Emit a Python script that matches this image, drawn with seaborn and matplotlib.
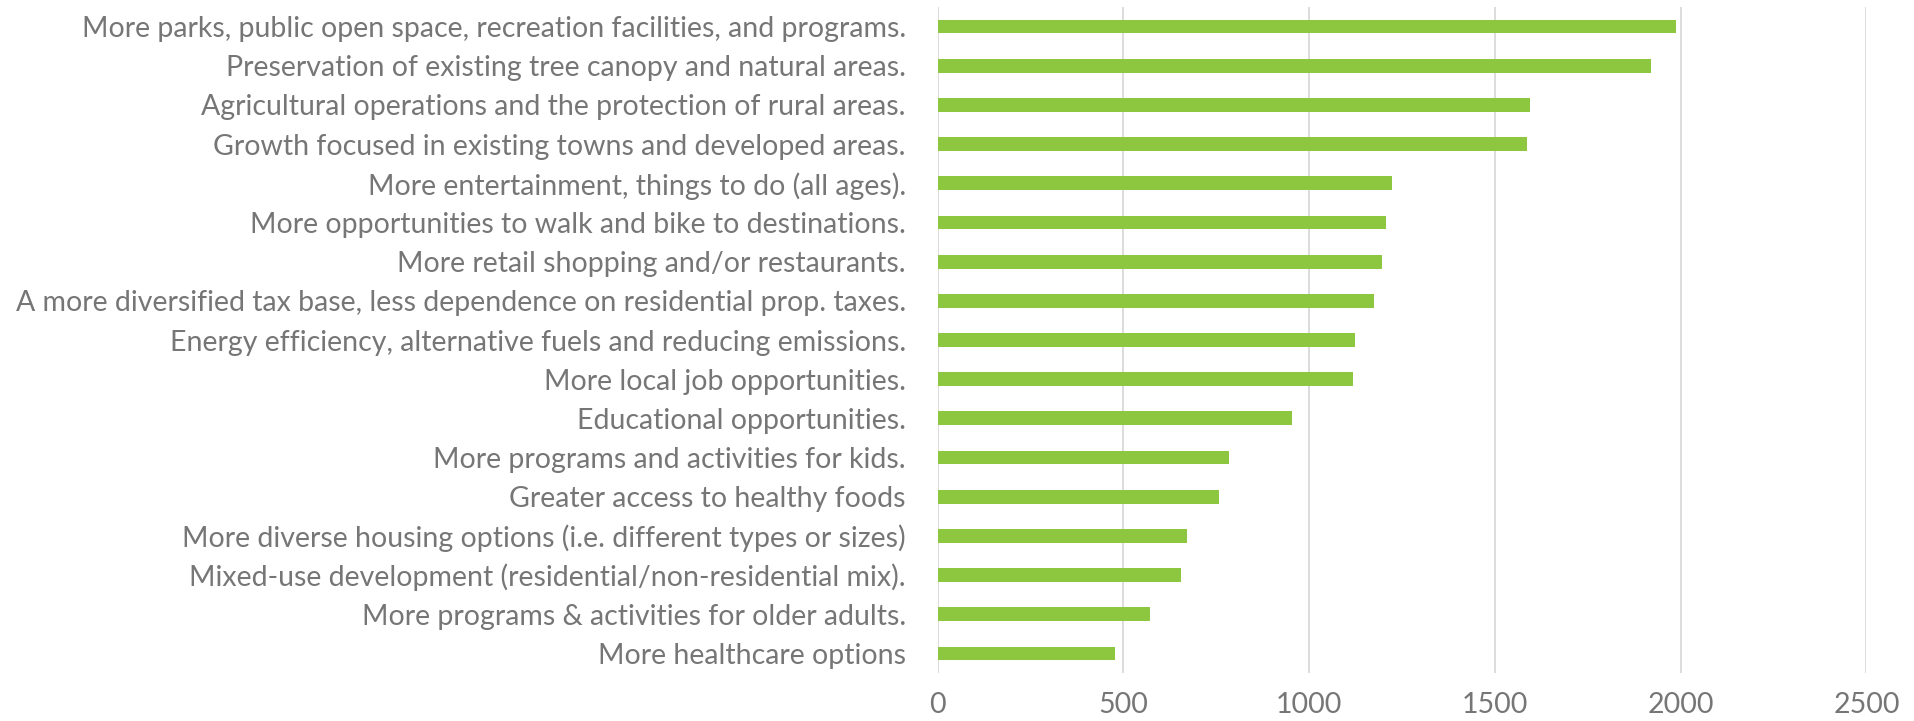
import matplotlib
matplotlib.use("Agg")
import matplotlib.pyplot as plt
import seaborn as sns
import pandas as pd
from matplotlib.textpath import TextPath
from matplotlib.font_manager import FontProperties

categories = [
    "More parks, public open space, recreation facilities, and programs.",
    "Preservation of existing tree canopy and natural areas.",
    "Agricultural operations and the protection of rural areas.",
    "Growth focused in existing towns and developed areas.",
    "More entertainment, things to do (all ages).",
    "More opportunities to walk and bike to destinations.",
    "More retail shopping and/or restaurants.",
    "A more diversified tax base, less dependence on residential prop. taxes.",
    "Energy efficiency, alternative fuels and reducing emissions.",
    "More local job opportunities.",
    "Educational opportunities.",
    "More programs and activities for kids.",
    "Greater access to healthy foods",
    "More diverse housing options (i.e. different types or sizes)",
    "Mixed-use development (residential/non-residential mix).",
    "More programs & activities for older adults.",
    "More healthcare options",
]
values = [1986, 1919, 1595, 1586, 1222, 1208, 1196, 1175, 1124,
          1117, 954, 783, 758, 671, 655, 572, 478]
x_ticks = [0, 500, 1000, 1500, 2000, 2500]

df = pd.DataFrame({"category": categories, "value": values})

sns.set_theme(style="white")
family = ["Lato", "DejaVu Sans"]
plt.rcParams["font.family"] = family

DPI = 100
W, H = 1915, 721
fig = plt.figure(figsize=(W / DPI, H / DPI), dpi=DPI)
ax = fig.add_axes([937.7 / W, 1 - 673 / H, (1866.5 - 937.7) / W, (673 - 7) / H])

# fit label font size so the longest label spans ~890 px
longest = max(categories, key=len)
fp = FontProperties(family="Lato", size=100)
w100 = TextPath((0, 0), longest, prop=fp).get_extents().width
target_px = 890
fs = 100 * target_px / (w100 * DPI / 72)

text_color = "#767676"
sns.barplot(data=df, x="value", y="category", orient="h", color="#8DC63F",
            saturation=1, width=0.35, ax=ax, edgecolor="none")

ax.set_xlim(0, 2500)
ax.set_ylim(len(categories) - 0.5, -0.5)
ax.set_xticks(x_ticks)
ax.set_xticklabels([str(t) for t in x_ticks])
ax.grid(axis="x", color="#D9D9D9", linewidth=1.3)
ax.grid(axis="y", visible=False)
ax.set_axisbelow(True)
for s in ax.spines.values():
    s.set_visible(False)
ax.set_xlabel("")
ax.set_ylabel("")
ax.tick_params(axis="y", length=0, pad=23, labelsize=fs, labelcolor=text_color)
ax.tick_params(axis="x", length=0, pad=14, labelsize=fs, labelcolor=text_color)

fig.savefig("out.png", dpi=DPI)
